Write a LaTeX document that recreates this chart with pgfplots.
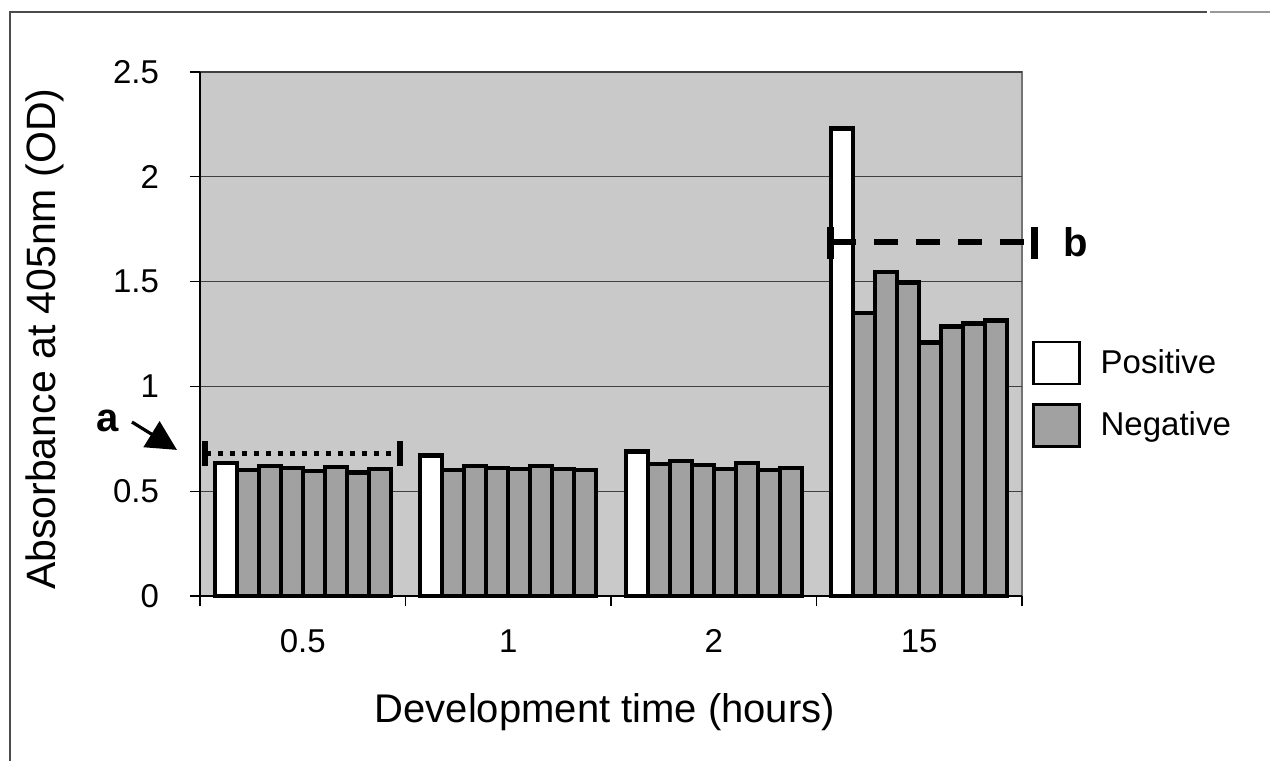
\documentclass[border=0pt]{standalone}
\usepackage{fontspec}
\setmainfont{Liberation Sans}
\usepackage{pgfplots}
\pgfplotsset{compat=1.18}
\usetikzlibrary{arrows.meta}

\definecolor{plotbg}{HTML}{C9C9C9}
\definecolor{negfill}{HTML}{A1A1A1}
\newcommand\ticksize{\fontsize{16.5}{19}\selectfont}
\newcommand\labelsize{\fontsize{20}{24}\selectfont}
% tick labels are set inside math mode, so size them in a text box
\newcommand\yt[1]{\mbox{\ticksize #1\hspace{12pt}}}
\newcommand\xt[1]{\mbox{\ticksize\rule{0pt}{19.5pt}#1}}

\begin{document}
\begin{tikzpicture}
\begin{axis}[
  scale only axis, width=411pt, height=262pt,
  xmin=-0.5, xmax=3.5, ymin=0, ymax=2.5,
  ybar, bar width=0.107,
  axis x line*=bottom, axis y line*=left,
  axis line style={line width=1pt, black},
  axis background/.style={fill=plotbg, draw=black!55, line width=0.8pt},
  ytick={0,0.5,1,1.5,2,2.5},
  yticklabels={\yt{0},\yt{0.5},\yt{1},\yt{1.5},\yt{2},\yt{2.5}},
  xtick={0,1,2,3},
  xticklabels={\xt{0.5},\xt{1},\xt{2},\xt{15}},
  major x tick style={draw=none},
  minor xtick={-0.5,0.5,1.5,2.5,3.5},
  tick align=outside, major tick length=5pt, minor tick length=5pt,
  tick style={black, line width=0.6pt},
  ymajorgrids, grid style={black!75, line width=0.6pt},
  every axis y label/.style={at={(axis description cs:-0.1886,0.49)}, rotate=90, anchor=center,
    font=\fontsize{20.5}{24}\selectfont},
  every axis x label/.style={at={(axis description cs:0.4925,-0.2214)}, anchor=center,
    font=\labelsize},
  xlabel={Development time (hours)},
  ylabel={Absorbance at 405nm (OD)},
  clip=false,
  legend style={at={(axis description cs:1.012,0.385)}, anchor=west, draw=none, fill=none,
    font=\fontsize{16.5}{19}\selectfont, row sep=9pt, inner sep=0pt,
    cells={anchor=west}},
  legend image code/.code={\draw[#1, line width=1.2pt, bar shift=0pt] (0pt,-10.5pt) rectangle (23pt,10.5pt);},
]
\addplot[fill=white, draw=black, line width=2.2pt, bar shift=0pt] coordinates {
  (-0.3745,0.635) (0.6255,0.67) (1.6255,0.69) (2.6255,2.23)};
\addlegendentry{\hspace{8pt}Positive}
\addplot[fill=negfill, draw=black, line width=2.2pt, bar shift=0pt] coordinates {
  (-0.2675,0.600) (-0.1605,0.620) (-0.0535,0.610) (0.0535,0.595) (0.1605,0.615) (0.2675,0.590) (0.3745,0.605)
  (0.7325,0.600) (0.8395,0.620) (0.9465,0.610) (1.0535,0.605) (1.1605,0.620) (1.2675,0.605) (1.3745,0.600)
  (1.7325,0.630) (1.8395,0.645) (1.9465,0.625) (2.0535,0.605) (2.1605,0.635) (2.2675,0.600) (2.3745,0.610)
  (2.7325,1.350) (2.8395,1.545) (2.9465,1.495) (3.0535,1.210) (3.1605,1.285) (3.2675,1.300) (3.3745,1.315)};
\addlegendentry{\hspace{8pt}Negative}
% a: dotted marker over the 0.5 h group
\draw[line width=2.5pt, dash pattern=on 2.5pt off 3.5pt] (axis cs:-0.47,0.68) -- (axis cs:0.47,0.68);
\draw[line width=3pt] (axis cs:-0.475,0.62) -- (axis cs:-0.475,0.74);
\draw[line width=3pt] (axis cs:0.475,0.62) -- (axis cs:0.475,0.74);
\node[font=\bfseries\fontsize{20}{24}\selectfont] at (axis cs:-0.95,0.835) {a};
\draw[line width=1.6pt, -{Triangle[length=15pt, width=15pt]}] (axis cs:-0.831,0.83) -- (axis cs:-0.612,0.697);
% b: dashed marker over the 15 h group
\draw[line width=3pt, dash pattern=on 12pt off 9pt] (axis cs:2.575,1.69) -- (axis cs:3.54,1.69);
\draw[line width=3.5pt] (axis cs:2.568,1.61) -- (axis cs:2.568,1.76);
\draw[line width=3.5pt] (axis cs:3.56,1.61) -- (axis cs:3.56,1.76);
\node[font=\bfseries\fontsize{20}{24}\selectfont] at (axis cs:3.76,1.69) {b};
\end{axis}
% frame
\draw[black!70, line width=1pt] (-95pt,-82.5pt) -- (-95pt,292pt) -- (503.5pt,292pt);
\draw[black!40, line width=0.6pt] (505pt,292pt) -- (535pt,292pt);
\path (-100pt,-82.5pt) rectangle (535.5pt,298pt);
\end{tikzpicture}
\end{document}
